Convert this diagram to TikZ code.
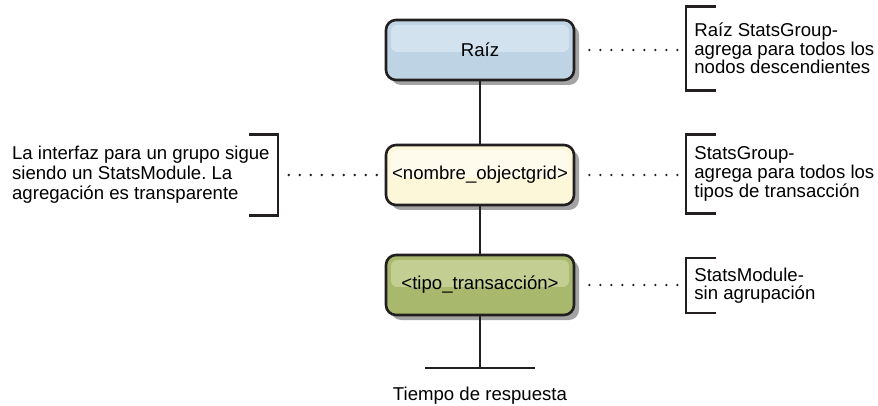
\documentclass[tikz,border=0pt]{standalone}
\usepackage{fontspec}
\setmainfont{Liberation Sans}
\usetikzlibrary{shadows}
\definecolor{figline}{RGB}{35,31,32}
\definecolor{figshad}{RGB}{163,163,163}
\definecolor{rootfill}{RGB}{190,212,229}
\definecolor{roottop}{RGB}{210,226,238}
\definecolor{grpfill}{RGB}{252,247,216}
\definecolor{grptop}{RGB}{254,251,236}
\definecolor{typfill}{RGB}{168,184,108}
\definecolor{typtop}{RGB}{194,206,146}
\tikzset{
  bx/.style  ={draw=figline, line width=1.3pt, rounded corners=5pt, minimum width=94pt, minimum height=30pt, inner sep=0pt,
               font=\fontsize{9.3}{9.3}\selectfont, drop shadow={shadow xshift=2.5pt, shadow yshift=-2.5pt, fill=figshad, opacity=1}},
  hl/.style  ={path picture={\fill[#1, rounded corners=3pt] ([shift={(2.5pt,-2.5pt)}]path picture bounding box.north west) rectangle ([shift={(-2.5pt,-1pt)}]path picture bounding box.east);}},
  lab/.style ={font=\fontsize{9.3}{9.3}\selectfont\frenchspacing, align=left, inner xsep=4pt, inner ysep=0pt},
  labw/.style={font=\fontsize{9.3}{10}\selectfont\frenchspacing, align=left, inner xsep=4pt, inner ysep=0pt},
  ln/.style  ={draw=figline, line width=1.2pt},
  brk/.style ={draw=figline, line width=1.3pt},
  dt/.style  ={draw=figline, line width=1.3pt, line cap=round, dash pattern=on 0pt off 5.5pt, shorten <=7pt, shorten >=3.5pt},
}
\begin{document}
\begin{tikzpicture}[x=0.5pt,y=-0.5pt]
  \useasboundingbox (0,0) rectangle (878,406);
  \node[bx, fill=rootfill, hl=roottop] (root) at (480,50) {Raíz};
  \node[bx, fill=grpfill, hl=grptop] (grp) at (480,175) {<nombre\_objectgrid>};
  \node[bx, fill=typfill, hl=typtop] (typ) at (480,285) {<tipo\_transacción>};
  \coordinate (base) at (480,368);
  \node[lab] (resp) at (480,396) {Tiempo de respuesta};
  \draw[ln] (root.south) -- (grp.north);
  \draw[ln] (grp.south) -- (typ.north);
  \draw[ln] (typ.south) -- (base);
  \draw[ln] ([xshift=-27.5pt]base) -- ([xshift=27.5pt]base);
  \node[lab, anchor=west, minimum height=41.5pt] (troot) at (686,48.5) {Raíz StatsGroup-\\agrega para todos los\\nodos descendientes};
  \node[lab, anchor=west, minimum height=39pt] (tgrp) at (686,174) {StatsGroup-\\agrega para todos los\\tipos de transacción};
  \node[lab, anchor=west, minimum height=27pt] (ttyp) at (686,285.5) {StatsModule-\\sin agrupación};
  \node[labw, anchor=east, minimum height=40pt] (tleft) at (278,175) {La interfaz para un grupo sigue\\siendo un StatsModule. La\\agregación es transparente};
  \draw[brk] ([xshift=15pt]troot.north west) -- (troot.north west) -- (troot.south west) -- ++(15pt,0);
  \draw[brk] ([xshift=15pt]tgrp.north west) -- (tgrp.north west) -- (tgrp.south west) -- ++(15pt,0);
  \draw[brk] ([xshift=15pt]ttyp.north west) -- (ttyp.north west) -- (ttyp.south west) -- ++(15pt,0);
  \draw[brk] ([xshift=-14.5pt]tleft.north east) -- (tleft.north east) -- (tleft.south east) -- ++(-14.5pt,0);
  \draw[dt] (root.east) -- (root.east -| troot.west);
  \draw[dt] (grp.east) -- (grp.east -| tgrp.west);
  \draw[dt] (typ.east) -- (typ.east -| ttyp.west);
  \draw[dt, shorten <=4pt, shorten >=2.5pt] (grp.west) -- (grp.west -| tleft.east);
\end{tikzpicture}
\end{document}
